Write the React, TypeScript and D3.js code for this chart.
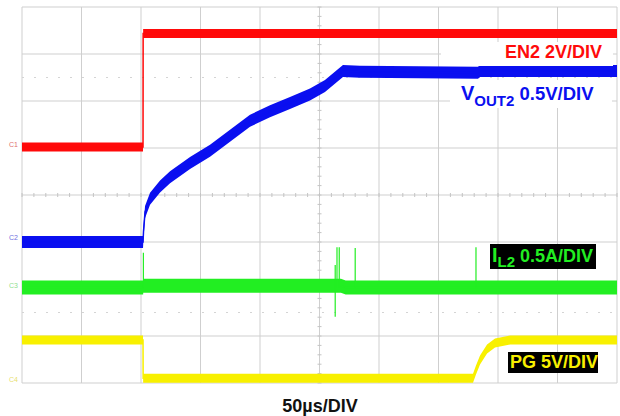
import React from "react";
import * as d3 from "d3";

// ---- Scope settings ----
const TIME_SPAN_US = 500; // 10 divisions x 50 µs
const X_DIVS = 10;
const Y_DIVS = 8;

// ---- EN2 (2 V/div) ----
const en2Time = [0, 101.7, 101.8, 500];
const en2Volts = [0, 0, 4.83, 4.83];

// ---- VOUT2 (0.5 V/div) ----
const voutTime = [0, 101.7, 102.1, 103.4, 107.6, 116.0, 124.4, 141.2, 158.0, 174.8, 191.6, 208.4, 225.2, 242.0, 254.6, 269.7, 284.0, 383.2, 384.9, 500];
const voutVolts = [0, 0, 0.11, 0.32, 0.46, 0.59, 0.69, 0.84, 0.97, 1.13, 1.29, 1.39, 1.48, 1.57, 1.66, 1.82, 1.81, 1.8, 1.82, 1.82];

// ---- IL2 (0.5 A/div) ----
const ilTime = [0, 101.8, 101.9, 268, 272, 500];
const ilAmps = [0, 0, 0.02, 0.02, 0, 0];
const ilSpikeTime = [102, 263.2, 264.7, 266.6, 280, 381.5];
const ilSpikeLow = [0, -0.31, 0, 0, 0, 0];
const ilSpikeHigh = [0.37, 0.24, 0.43, 0.43, 0.42, 0.43];

// ---- PG (5 V/div) ----
const pgTime = [0, 101.7, 101.8, 379, 381.5, 384.9, 390.8, 397.5, 410.1, 500];
const pgVolts = [4.07, 4.07, 0, 0, 0.88, 1.95, 3.12, 3.76, 4.07, 4.07];

// ---- Labels ----
const timeLabel = "50µs/DIV";

const W = 620;
const H = 416;
const PL = 22, PR = 617, PT = 7, PB = 383;

type Pt = { t: number; v: number };

function zip(ts: number[], vs: number[]): Pt[] {
  return ts.map((t, i) => ({ t, v: vs[i] }));
}

export default function App() {
  const x = d3.scaleLinear().domain([0, TIME_SPAN_US]).range([PL, PR]);
  const yDiv = d3.scaleLinear().domain([0, Y_DIVS]).range([PB, PT]);

  const channels = [
    { name: "EN2", pts: zip(en2Time, en2Volts), perDiv: 2, offset: 5.02, color: "#ff0a0a", band: 9 },
    { name: "VOUT2", pts: zip(voutTime, voutVolts), perDiv: 0.5, offset: 3.0, color: "#0a0ff0", band: 12 },
    { name: "IL2", pts: zip(ilTime, ilAmps), perDiv: 0.5, offset: 2.03, color: "#22ee22", band: 14 },
    { name: "PG", pts: zip(pgTime, pgVolts), perDiv: 5, offset: 0.1, color: "#f8f000", band: 9 },
  ];

  const vertLines = d3.range(0, X_DIVS + 1).map((i) => x((TIME_SPAN_US / X_DIVS) * i));
  const horLines = d3.range(0, Y_DIVS + 1).map((i) => yDiv(i));
  const minorX = d3.range(0, TIME_SPAN_US + 0.1, TIME_SPAN_US / X_DIVS / 5).map((t) => x(t));
  const minorY = d3.range(0, Y_DIVS + 0.01, 0.2).map((d) => yDiv(d));
  const cx = x(TIME_SPAN_US / 2);
  const cy = yDiv(Y_DIVS / 2);

  const ilCh = channels[2];
  const yIl = (a: number) => yDiv(ilCh.offset + a / ilCh.perDiv);

  return (
    <svg width={W} height={H} style={{ position: "absolute", left: 0, top: 0, background: "#fff" }}
      fontFamily="'Liberation Sans', Arial, Helvetica, sans-serif">
      <defs>
        <clipPath id="plotClip">
          <rect x={PL} y={PT} width={PR - PL} height={PB - PT} />
        </clipPath>
      </defs>
      <rect x={0} y={0} width={W} height={H} fill="#fff" />
      {/* grid */}
      {vertLines.map((vx, i) => (
        <line key={"v" + i} x1={vx} x2={vx} y1={PT} y2={PB} stroke="#cfcfcf" strokeWidth={1} />
      ))}
      {horLines.map((hy, i) => (
        <line key={"h" + i} x1={PL} x2={PR} y1={hy} y2={hy} stroke="#cfcfcf" strokeWidth={1} />
      ))}
      {[1.5, 6.5].map((d) => (
        <line key={"d" + d} x1={PL} x2={PR} y1={yDiv(d)} y2={yDiv(d)} stroke="#d4d4d4" strokeWidth={1} strokeDasharray="2 10" />
      ))}
      {minorX.map((mx, i) => (
        <line key={"mx" + i} x1={mx} x2={mx} y1={cy - 2} y2={cy + 2} stroke="#c4c4c4" strokeWidth={1} />
      ))}
      {minorY.map((my, i) => (
        <line key={"my" + i} x1={cx - 2} x2={cx + 2} y1={my} y2={my} stroke="#c4c4c4" strokeWidth={1} />
      ))}

      {/* traces */}
      <g clipPath="url(#plotClip)">
        {channels.map((ch) => {
          const yv = (v: number) => yDiv(ch.offset + v / ch.perDiv);
          const area = d3.area<Pt>().x((d) => x(d.t)).y0((d) => yv(d.v) - ch.band / 2).y1((d) => yv(d.v) + ch.band / 2);
          const line = d3.line<Pt>().x((d) => x(d.t)).y((d) => yv(d.v));
          return (
            <g key={ch.name}>
              <path d={area(ch.pts) || ""} fill={ch.color} />
              <path d={line(ch.pts) || ""} fill="none" stroke={ch.color} strokeWidth={1.5} />
            </g>
          );
        })}
        {ilSpikeTime.map((t, i) => (
          <line key={"sp" + i} x1={x(t)} x2={x(t)} y1={yIl(ilSpikeHigh[i])} y2={yIl(ilSpikeLow[i])}
            stroke={ilCh.color} strokeWidth={1.2} />
        ))}
      </g>

      {/* channel markers */}
      <text x={9} y={147} fontSize={7} fill="#e07070">C1</text>
      <text x={9} y={240} fontSize={7} fill="#7070e0">C2</text>
      <text x={9} y={288} fontSize={7} fill="#90e090">C3</text>
      <text x={9} y={382} fontSize={7} fill="#e8e070">C4</text>

      {/* labels */}
      <rect x={441} y={42} width={172} height={24} fill="#fff" />
      <text x={602} y={58} fontSize={18} fontWeight="bold" fill="#ff0a0a" textAnchor="end">EN2 2V/DIV</text>
      <rect x={450} y={80} width={162} height={28} fill="#fff" />
      <text x={461} y={100} fontWeight="bold" fill="#0a0ff0">
        <tspan fontSize={20}>V</tspan>
        <tspan fontSize={15} dy={6}>OUT2</tspan>
        <tspan fontSize={18.5} dy={-6}> 0.5V/DIV</tspan>
      </text>
      <rect x={490} y={244} width={106} height={25} fill="#000" />
      <text x={492} y={262} fontWeight="bold" fill="#22ee22">
        <tspan fontSize={20}>I</tspan>
        <tspan fontSize={15} dy={5}>L2</tspan>
        <tspan fontSize={18} dy={-5}> 0.5A/DIV</tspan>
      </text>
      <rect x={508} y={352} width={90} height={21} fill="#000" />
      <text x={510} y={368} fontSize={18} fontWeight="bold" fill="#f8f000">PG 5V/DIV</text>

      <text x={320} y={412} fontSize={18} fontWeight="bold" fill="#111" textAnchor="middle">{timeLabel}</text>
    </svg>
  );
}
